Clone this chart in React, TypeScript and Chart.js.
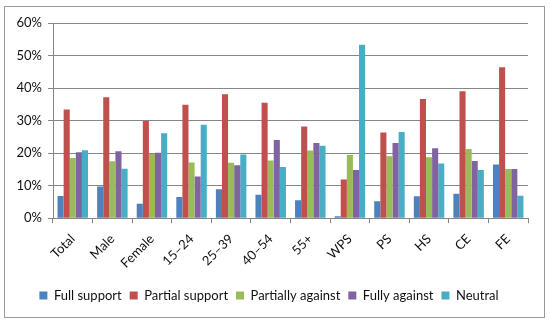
import React, { useEffect, useRef } from "react";
import { Chart, registerables } from "chart.js";

Chart.register(...registerables);

const categories = ["Total", "Male", "Female", "15\u201324", "25\u201339", "40\u201354", "55+", "WPS", "PS", "HS", "CE", "FE"];
const fullSupport = [6.8, 9.7, 4.4, 6.5, 8.9, 7.2, 5.5, 0.6, 5.2, 6.7, 7.5, 16.5];
const partialSupport = [33.4, 37.2, 29.9, 34.9, 38.1, 35.5, 28.2, 11.9, 26.3, 36.6, 39.0, 46.4];
const partiallyAgainst = [18.5, 17.5, 19.7, 17.1, 17.0, 17.7, 20.8, 19.4, 19.0, 18.7, 21.3, 15.1];
const fullyAgainst = [20.3, 20.6, 20.1, 12.8, 16.3, 24.0, 23.1, 14.8, 23.1, 21.5, 17.6, 15.1];
const neutral = [20.9, 15.2, 26.1, 28.7, 19.6, 15.7, 22.3, 53.3, 26.5, 16.8, 14.8, 6.9];
const seriesNames = ["Full support", "Partial support", "Partially against", "Fully against", "Neutral"];
const yTicks = [0, 10, 20, 30, 40, 50, 60];

const colors = ["#4F81BD", "#C0504D", "#9BBB59", "#8064A2", "#4BACC6"];
const FONT = "Lato, 'Open Sans', sans-serif";

export default function App() {
  const ref = useRef<HTMLCanvasElement | null>(null);
  useEffect(() => {
    if (!ref.current) return;
    const values = [fullSupport, partialSupport, partiallyAgainst, fullyAgainst, neutral];
    const chart = new Chart(ref.current, {
      type: "bar",
      data: {
        labels: categories,
        datasets: values.map((v, i) => ({
          label: seriesNames[i],
          data: v,
          backgroundColor: colors[i],
          borderWidth: 0,
          categoryPercentage: 0.77,
          barPercentage: 1,
        })),
      },
      options: {
        animation: false,
        responsive: false,
        devicePixelRatio: 1,
        layout: { padding: { left: 10, right: 22, top: 23, bottom: 14 } },
        plugins: {
          legend: {
            position: "bottom",
            labels: {
              boxWidth: 8,
              boxHeight: 8,
              padding: 8,
              color: "#111",
              font: { family: FONT, size: 13 },
            },
          },
          tooltip: { enabled: false },
        },
        scales: {
          x: {
            afterFit: (scale: any) => {
              scale.height += 2;
            },
            grid: {
              offset: true,
              drawOnChartArea: false,
              drawTicks: true,
              tickLength: 5,
              color: "#868686",
            },
            border: { display: true, color: "#868686" },
            ticks: {
              maxRotation: 45,
              minRotation: 45,
              color: "#111",
              padding: 8,
              font: { family: FONT, size: 13 },
            },
          },
          y: {
            min: 0,
            max: 60,
            afterBuildTicks: (scale: any) => {
              scale.ticks = yTicks.map((v) => ({ value: v }));
            },
            afterFit: (scale: any) => {
              scale.width = 43;
            },
            grid: { color: "#868686", tickLength: 5 },
            border: { display: true, color: "#868686" },
            ticks: {
              color: "#111",
              padding: 6,
              font: { family: FONT, size: 13 },
              callback: (v: any) => v + "%",
            },
          },
        },
      },
    });
    return () => chart.destroy();
  }, []);
  return (
    <div style={{ position: "fixed", left: 0, top: 0, width: 550, height: 326, background: "#fff" }}>
      <div
        style={{
          position: "absolute",
          left: 4,
          top: 6,
          width: 539,
          height: 310,
          border: "1px solid #999",
        }}
      />
      <canvas ref={ref} width={550} height={326} style={{ position: "absolute", left: 0, top: 0 }} />
    </div>
  );
}
